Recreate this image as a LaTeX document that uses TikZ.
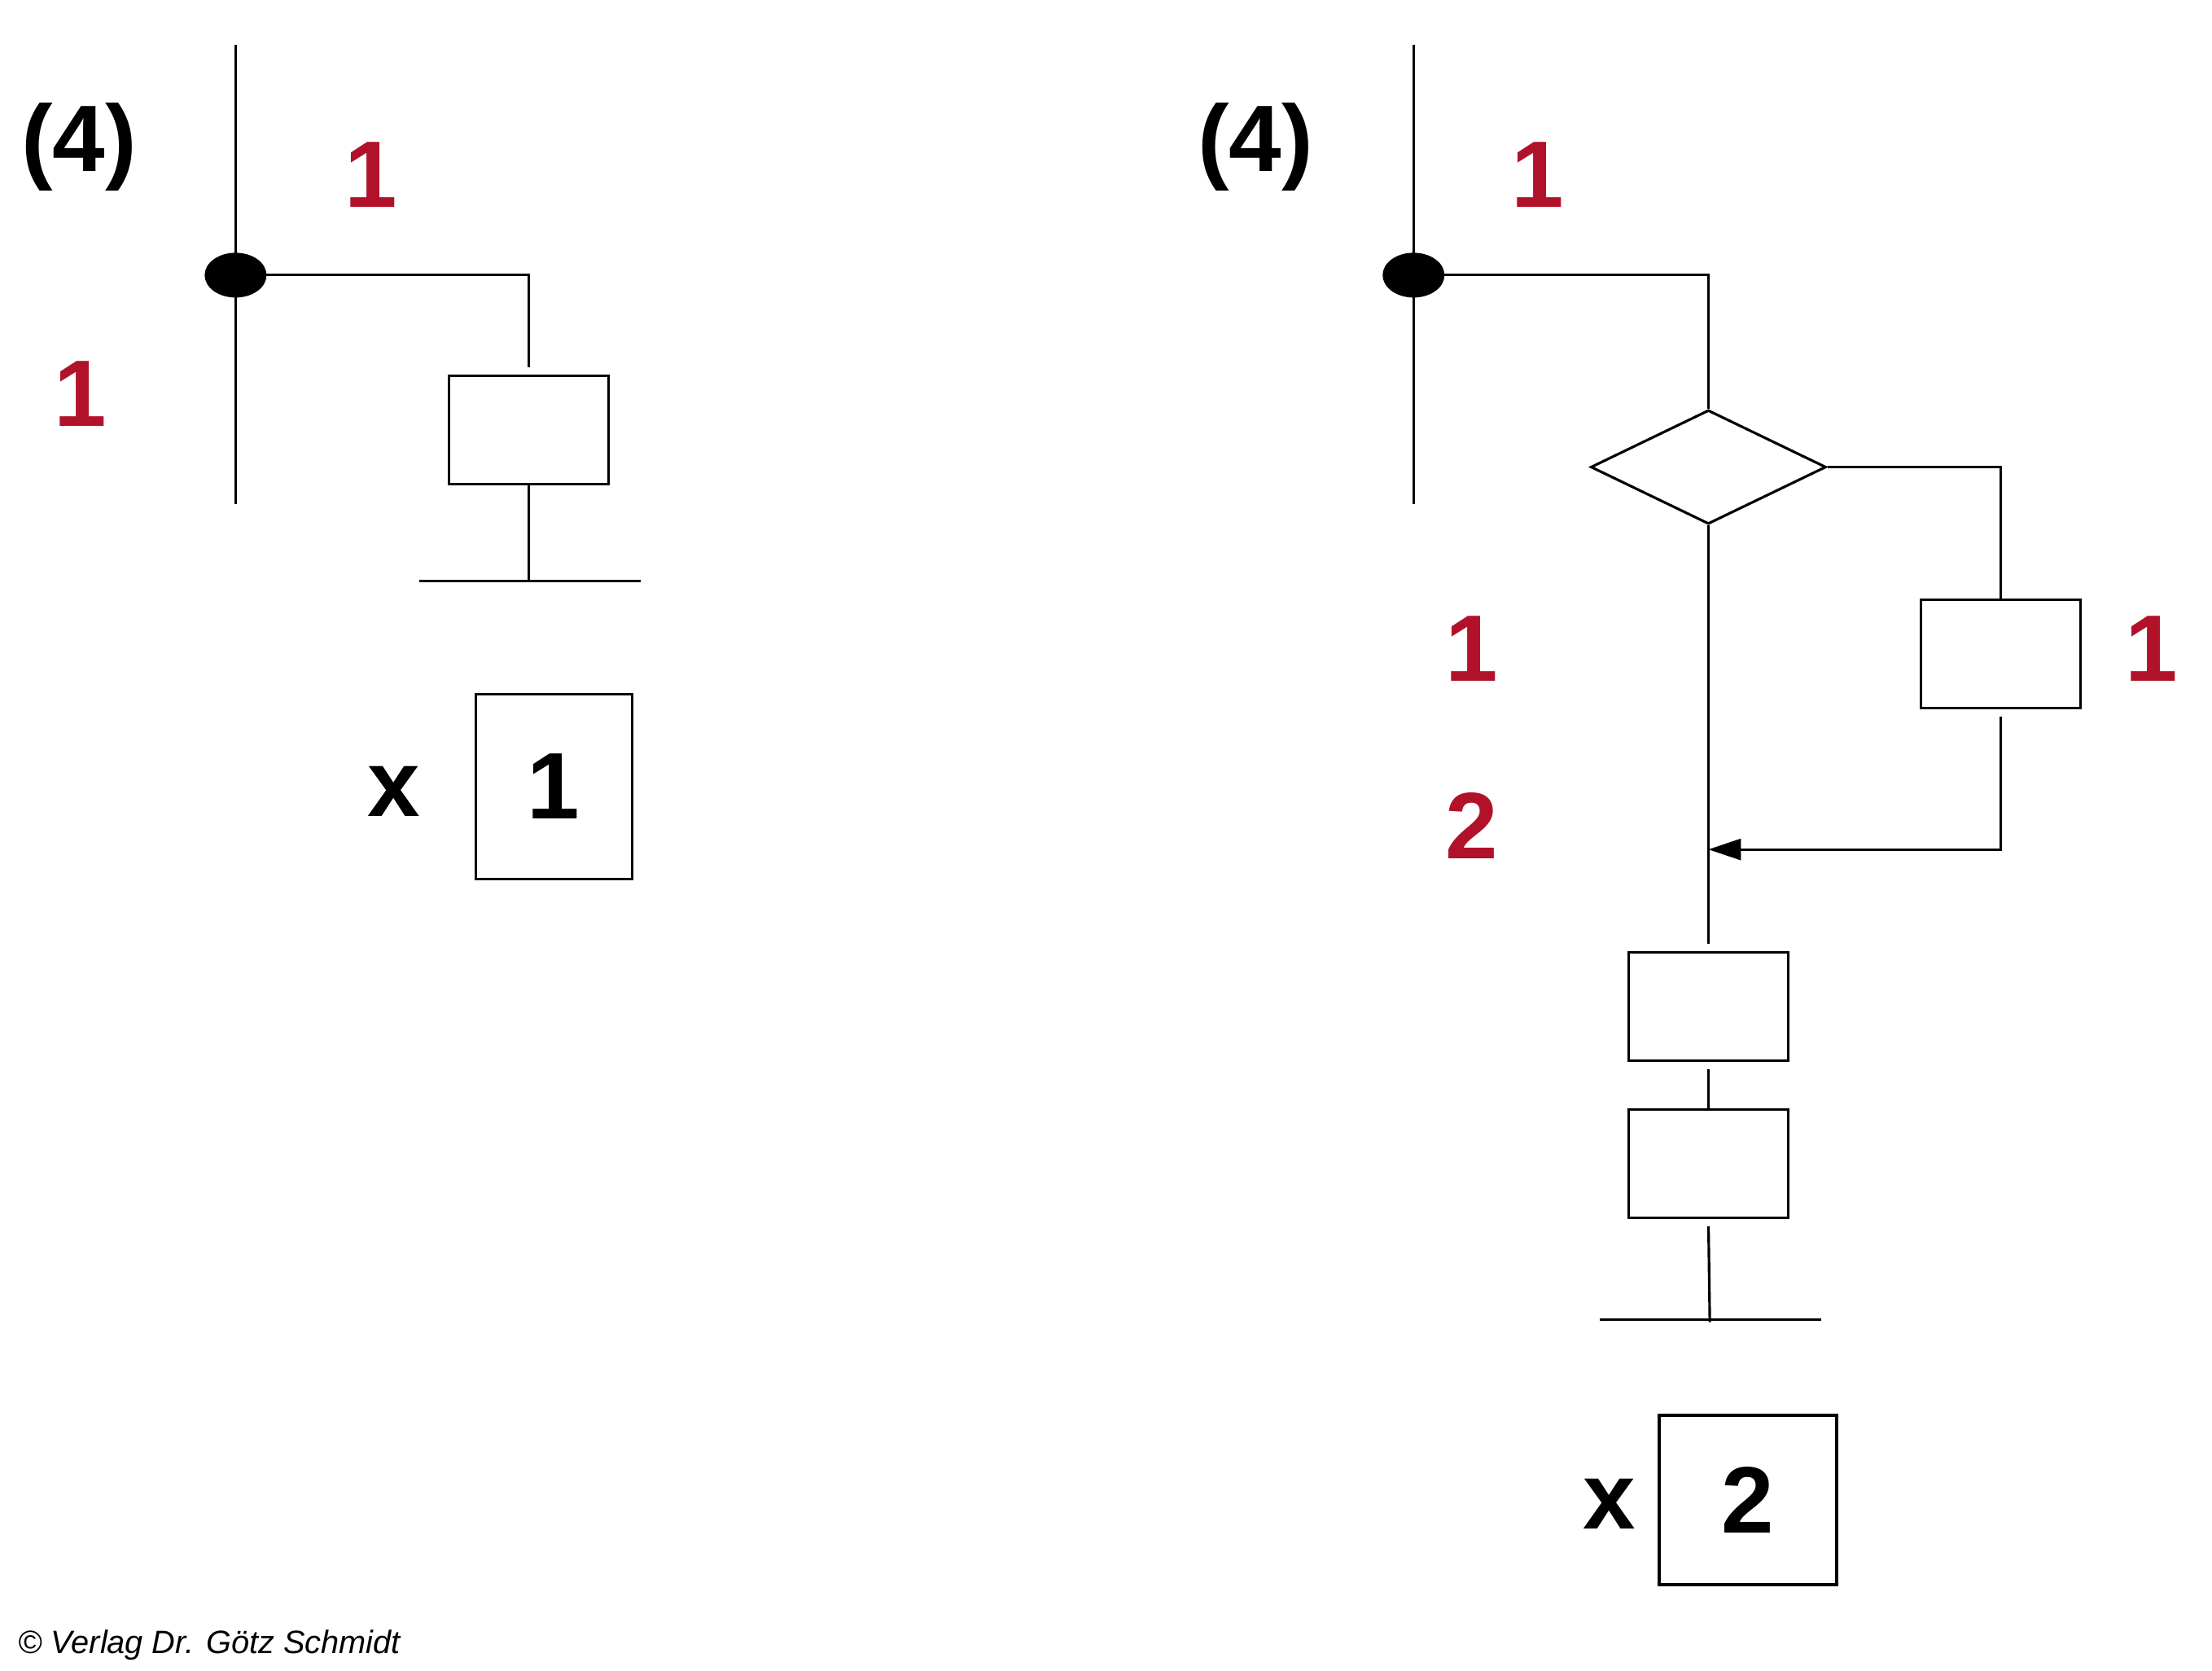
\documentclass[tikz,border=0pt]{standalone}
\usepackage{fontspec}
\setmainfont{Liberation Sans}
\usetikzlibrary{shapes.geometric,arrows.meta,positioning}
\definecolor{countred}{RGB}{177,18,42}

\begin{document}
\begin{tikzpicture}[x=0.17328mm, y=-0.17328mm, line width=0.9pt]
    \tikzstyle{block} = [rectangle, draw, minimum width=19.6mm, minimum height=13.3mm, inner sep=0pt]
    \tikzstyle{decision} = [diamond, draw, minimum width=28.9mm, minimum height=14mm, inner sep=0pt]
    \tikzstyle{junction} = [ellipse, fill=black, minimum width=7.6mm, minimum height=5.5mm, inner sep=0pt]
    \tikzstyle{bignum} = [inner sep=0pt, font=\fontsize{33}{36}\selectfont\bfseries]
    \tikzstyle{rednum} = [bignum, text=countred]
    \tikzstyle{result} = [rectangle, draw, inner sep=0pt, font=\fontsize{33}{36}\selectfont\bfseries]
    \tikzstyle{gap} = [shorten <=0.9mm]

    \useasboundingbox (0,0) rectangle (1568,1184);

    % left: one path
    \node[bignum] (stepL) at (56,104) {(4)};
    \node[rednum] (inL) at (263,124) {1};
    \node[rednum] (countL) at (57,279) {1};
    \coordinate (topL) at (167,32);
    \coordinate (endL) at (167,357);
    \coordinate (branchL) at (167,195);
    \node[block] (boxL) at (375,304.5) {};
    \coordinate (gndL) at (375,412);
    \node[bignum] (xL) at (279,561) {x};
    \node[result, minimum width=19.2mm, minimum height=22.7mm] (resL) at (392.5,557.5) {1};

    \draw (topL) -- (endL);
    \draw[shorten >=0.9mm] (branchL) -| (boxL.north);
    \draw (boxL.south) -- (gndL);
    \draw (gndL) ++(-78,0) -- ++(157,0);
    \node[junction] (dotL) at (branchL) {};

    % right: branch and two steps
    \node[bignum] (stepR) at (890,104) {(4)};
    \node[rednum] (inR) at (1090,124) {1};
    \node[rednum] (countR1) at (1043,460) {1};
    \node[rednum] (countR2) at (1043,585) {2};
    \node[rednum] (countA) at (1525,460) {1};
    \coordinate (topR) at (1002,32);
    \coordinate (endR) at (1002,357);
    \coordinate (branchR) at (1002,195);
    \node[decision] (dec) at (1211,331) {};
    \node[block] (boxA) at (1418,463.5) {};
    \coordinate (merge) at (1211,602);
    \node[block] (boxB) at (1211,713.5) {};
    \node[block] (boxC) at (1211,824.5) {};
    \coordinate (gndR) at (1212,937);
    \node[bignum] (xR) at (1141,1066) {x};
    \node[result, minimum width=21.8mm, minimum height=20.8mm] (resR) at (1239,1063) {2};

    \draw (topR) -- (endR);
    \draw (branchR) -| (dec.north);
    \draw (dec.east) -| (boxA.north);
    \draw[gap, -{Triangle[length=4mm, width=2.6mm]}] (boxA.south) |- (merge);
    \draw[shorten >=0.9mm] (dec.south) -- (boxB.north);
    \draw[gap] (boxB.south) -- (boxC.north);
    \draw[gap] (boxC.south) -- (gndR);
    \draw (gndR) ++(-78,-2) -- ++(157,0);
    \node[junction] (dotR) at (branchR) {};

    \node[anchor=base west, inner sep=0pt, font=\fontsize{11.3}{13}\selectfont\itshape] (copy) at (12,1172) {© Verlag Dr. Götz Schmidt};
\end{tikzpicture}
\end{document}
